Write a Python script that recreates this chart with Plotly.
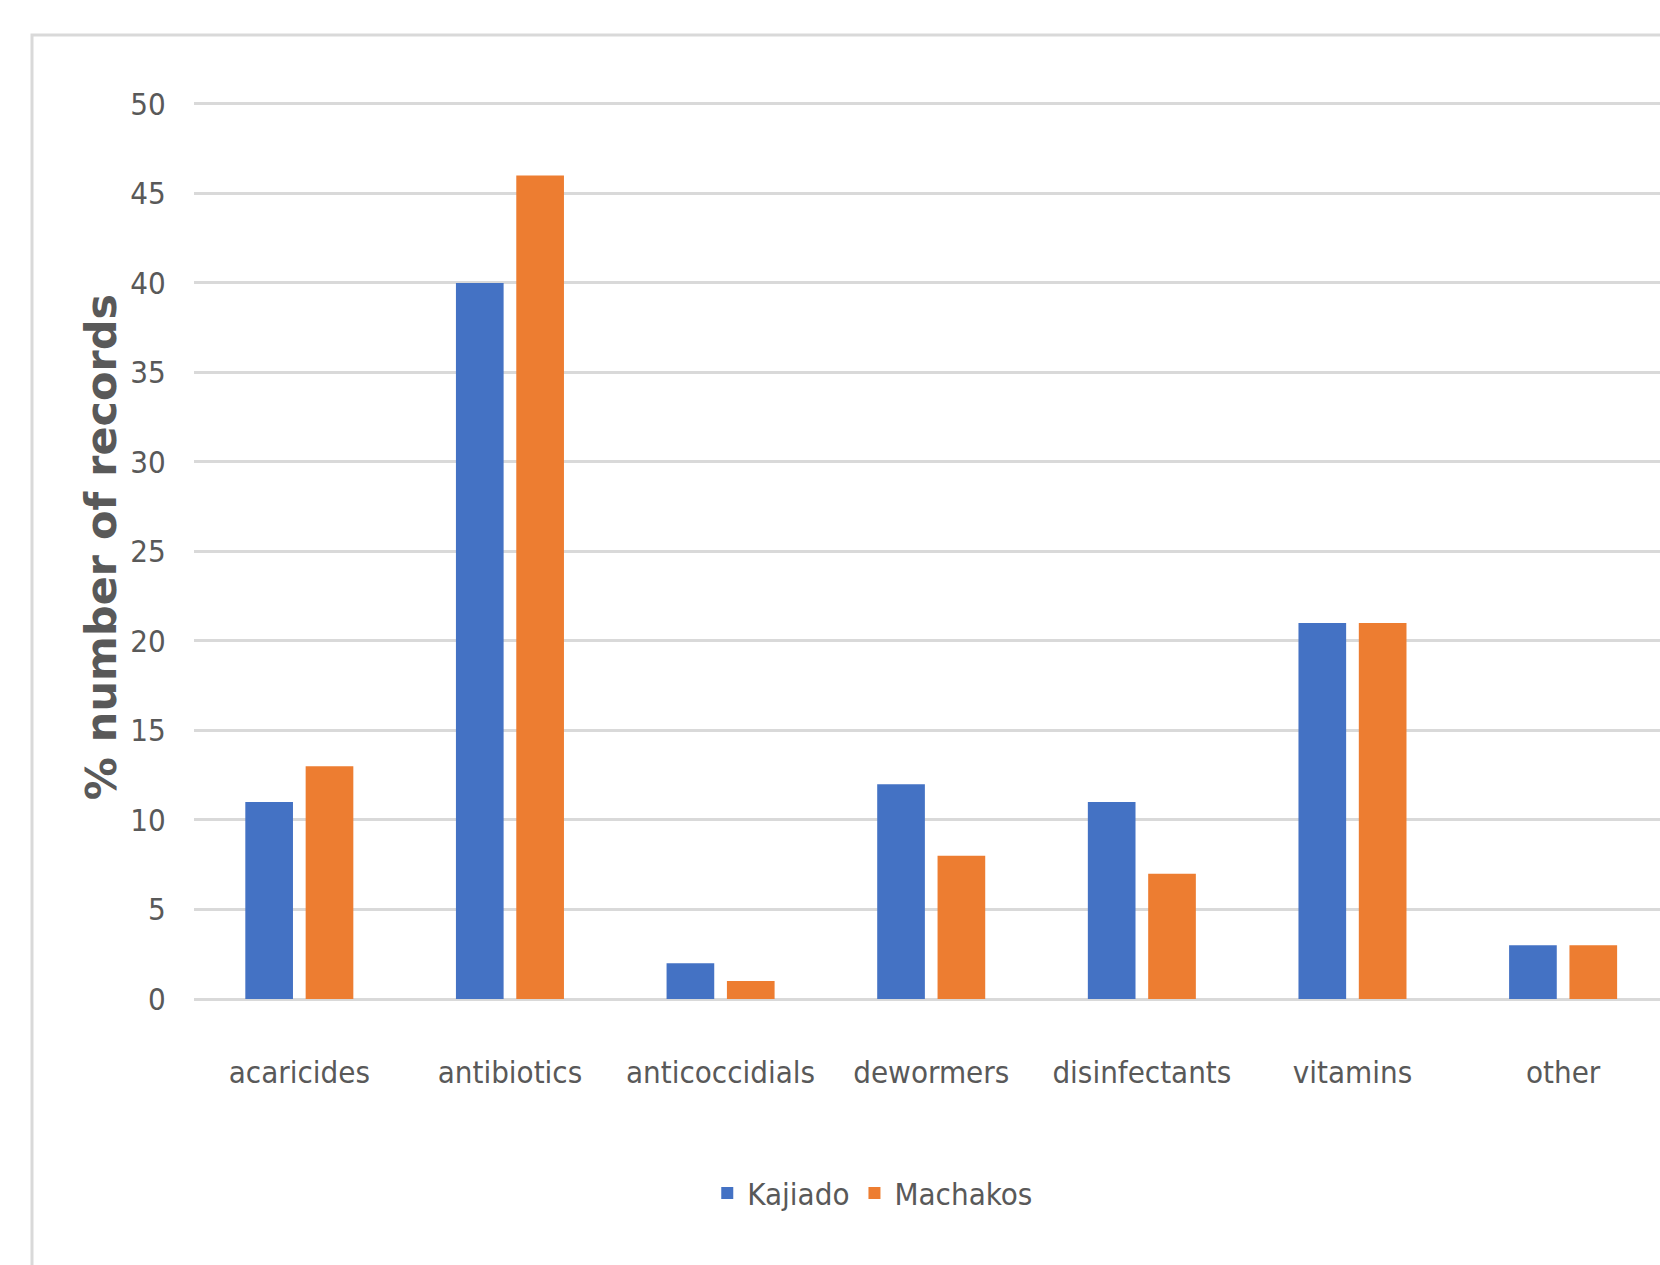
import plotly.graph_objects as go

categories = ["acaricides", "antibiotics", "anticoccidials", "dewormers", "disinfectants", "vitamins", "other"]
kajiado = [11, 40, 2, 12, 11, 21, 3]
machakos = [13, 46, 1, 8, 7, 21, 3]
y_ticks = [0, 5, 10, 15, 20, 25, 30, 35, 40, 45, 50]

W, H = 1660, 1265
L, T, B = 194, 95, 266

tick_font = dict(family="DejaVu Sans Condensed, sans-serif", size=31, color="#595959")

fig = go.Figure()
fig.add_trace(go.Bar(x=categories, y=kajiado, name="Kajiado", marker=dict(color="#4472C4", line=dict(width=0))))
fig.add_trace(go.Bar(x=categories, y=machakos, name="Machakos", marker=dict(color="#ED7D31", line=dict(width=0))))

pw = W - L
ph = H - T - B

fig.update_layout(
    width=W, height=H,
    margin=dict(l=L, r=0, t=T, b=B, pad=0),
    paper_bgcolor="white", plot_bgcolor="white",
    barmode="group", bargap=0.427, bargroupgap=0.21,
    showlegend=True,
    legend=dict(orientation="h", x=0.463, xanchor="center", y=-0.215, yanchor="middle",
                font=tick_font, itemwidth=30, traceorder="normal"),
    xaxis=dict(range=[-0.5, 6.46], showgrid=False, showline=False, zeroline=False,
               tickfont=tick_font, ticks="outside", ticklen=46, tickcolor="rgba(0,0,0,0)"),
    yaxis=dict(range=[0, 50.5], tickvals=y_ticks, showgrid=True, gridcolor="#d9d9d9", gridwidth=3,
               zeroline=True, zerolinecolor="#d9d9d9", zerolinewidth=3, showline=False,
               tickfont=tick_font, ticks="outside", ticklen=21, tickcolor="rgba(0,0,0,0)",
               title=dict(text="% number of records",
                          font=dict(family="DejaVu Sans", size=43, color="#595959", weight="bold"),
                          standoff=0)),
    shapes=[dict(type="rect", xref="paper", yref="paper",
                 x0=(32 - L) / pw, x1=1.2, y0=-0.6, y1=(H - B - 35) / ph,
                 line=dict(color="#d9d9d9", width=3), fillcolor="rgba(0,0,0,0)", layer="below")],
)

fig.write_html("out.html")
